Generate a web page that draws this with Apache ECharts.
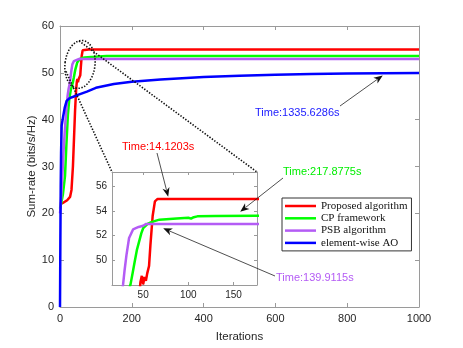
<!DOCTYPE html>
<html>
<head>
<meta charset="utf-8">
<script src="https://cdn.jsdelivr.net/npm/echarts@6/dist/echarts.min.js"></script>
<style>
  html, body { margin: 0; padding: 0; background: #fff; }
  #chart { width: 463px; height: 348px; }
</style>
</head>
<body>
<div id="chart"></div>
<script>
// series: iteration index and sum-rate (bits/s/Hz)
const proposedIter = [0, 10, 20, 28, 32, 36, 39, 42, 45, 47, 48.5, 50, 51.5, 53, 54.5, 56.5, 58, 60.5, 63, 66, 80, 1000]
const proposedRate = [22.0, 22.3, 22.8, 23.5, 25, 30, 36, 42, 46.5, 48.2, 48.7, 48.0, 48.6, 48.3, 48.9, 49.5, 51.2, 53.6, 54.8, 55.0, 55.0, 55.0]

const cpIter = [0, 3, 8, 14, 18, 22, 26, 30, 33, 36, 38.5, 40.7, 43, 45.5, 48, 50, 55, 59, 68, 87, 100, 103, 106, 110, 130, 176, 1000]
const cpRate = [21, 22, 24, 28, 35, 41, 44.5, 46.3, 47.2, 48, 49, 49.9, 50.8, 51.5, 52.2, 52.6, 52.95, 53.1, 53.3, 53.4, 53.45, 53.38, 53.5, 53.57, 53.6, 53.62, 53.6]

const psbIter = [0, 3, 6, 9, 12, 15, 18, 21, 24, 27.7, 29.5, 31.5, 34.4, 38.8, 45, 50, 53.3, 1000]
const psbRate = [20, 23, 27, 32, 36, 39.5, 42.5, 45, 46.6, 47.95, 49.2, 50.4, 51.8, 52.5, 52.7, 52.8, 52.95, 52.95]

const aoIter = [0, 1, 2, 3, 4.6, 9, 13, 18.5, 27, 37, 50, 75, 100, 150, 200, 280, 400, 500, 600, 700, 800, 900, 1000]
const aoRate = [0, 14, 26, 33, 38.7, 40.8, 42.5, 44, 44.6, 44.9, 45.3, 46.0, 46.8, 47.6, 48.1, 48.6, 49.1, 49.4, 49.6, 49.75, 49.85, 49.92, 49.95]

const names = ['Proposed algorithm', 'CP framework', 'PSB algorithm', 'element-wise AO']
const colors = ['#ff0000', '#00ff00', '#b45cf5', '#0000ff']

const insetXTicks = [50, 100, 150]
const insetYTicks = [50, 52, 54, 56]

// annotation texts and arrow tips (tips in data coords of the grid they point at)
const notes = [
  { text: 'Time:14.1203s', color: '#ff0000', x: 122, y: 147, from: [157, 153], grid: 1, tip: [77.7, 55.18] },
  { text: 'Time:217.8775s', color: '#00ee00', x: 283, y: 171.5, from: [283, 178], grid: 1, tip: [157.4, 53.95] },
  { text: 'Time:139.9115s', color: '#b45cf5', x: 276, y: 278, from: [275, 276], grid: 1, tip: [72.2, 52.59] },
  { text: 'Time:1335.6286s', color: '#1a1aff', x: 255, y: 113, from: [340, 106], grid: 0, tip: [899, 49.44] },
]

const zip = (xs, ys) => xs.map((x, i) => [x, ys[i]])
const allData = [zip(proposedIter, proposedRate), zip(cpIter, cpRate), zip(psbIter, psbRate), zip(aoIter, aoRate)]

const axisGray = '#9a9a9a'
const labelColor = '#262626'
const sans = 'Liberation Sans, Arial, sans-serif'

function boxAxis(extra) {
  return Object.assign({
    type: 'value',
    axisLine: { show: true, onZero: false, lineStyle: { color: axisGray, width: 1 } },
    axisTick: { show: true, inside: true, length: 4, lineStyle: { color: axisGray } },
    axisLabel: { show: false },
    splitLine: { show: false },
  }, extra)
}

const chart = echarts.init(document.getElementById('chart'), null, { renderer: 'canvas' })

const series = []
allData.forEach((d, i) => {
  series.push({
    name: names[i], type: 'line', data: d, xAxisIndex: 0, yAxisIndex: 0,
    showSymbol: false, symbol: 'none', lineStyle: { width: 2.5, color: colors[i] },
    itemStyle: { color: colors[i] }, animation: false,
  })
})
allData.forEach((d, i) => {
  if (i === 3) return
  series.push({
    name: names[i], type: 'line', data: d, xAxisIndex: 2, yAxisIndex: 2,
    showSymbol: false, symbol: 'none', lineStyle: { width: 2.5, color: colors[i] },
    itemStyle: { color: colors[i] }, animation: false, clip: true,
  })
})

chart.setOption({
  animation: false,
  backgroundColor: '#fff',
  grid: [
    { left: 60, top: 26, width: 359, height: 284 },
    { left: 112, top: 172, width: 145, height: 113, show: true, backgroundColor: '#fff', borderWidth: 0 },
  ],
  legend: {
    data: names,
    orient: 'vertical',
    left: 282, top: 198,
    padding: [2, 4, 2, 3],
    itemGap: 0.3,
    itemWidth: 31, itemHeight: 2.5,
    icon: 'rect',
    backgroundColor: '#fff',
    borderColor: '#333', borderWidth: 1, borderRadius: 0,
    textStyle: { fontFamily: 'Liberation Serif, Times New Roman, serif', fontSize: 11, color: '#111', lineHeight: 12 },
    z: 10,
  },
  xAxis: [
    boxAxis({
      gridIndex: 0, min: 0, max: 1000, interval: 200, position: 'bottom',
      axisLabel: { show: true, color: labelColor, fontSize: 11, fontFamily: sans, margin: 6, formatter: (v) => String(v) },
      name: 'Iterations', nameLocation: 'middle', nameGap: 24, nameMoveOverlap: false,
      nameTextStyle: { color: labelColor, fontSize: 11.5, fontFamily: sans },
    }),
    boxAxis({ gridIndex: 0, min: 0, max: 1000, interval: 200, position: 'top' }),
    boxAxis({
      gridIndex: 1, min: 15.5, max: 176, position: 'bottom',
      axisTick: { show: true, inside: true, length: 3, customValues: insetXTicks, lineStyle: { color: axisGray } },
      axisLabel: { show: true, customValues: insetXTicks, color: labelColor, fontSize: 10, fontFamily: sans, margin: 5 },
    }),
    boxAxis({
      gridIndex: 1, min: 15.5, max: 176, position: 'top',
      axisTick: { show: true, inside: true, length: 3, customValues: insetXTicks, lineStyle: { color: axisGray } },
    }),
  ],
  yAxis: [
    boxAxis({
      gridIndex: 0, min: 0, max: 60, interval: 10, position: 'left',
      axisLabel: { show: true, color: labelColor, fontSize: 11, fontFamily: sans, margin: 6 },
      name: 'Sum-rate (bits/s/Hz)', nameLocation: 'middle', nameGap: 22, nameRotate: 90, nameMoveOverlap: false,
      nameTextStyle: { color: labelColor, fontSize: 11.5, fontFamily: sans },
    }),
    boxAxis({ gridIndex: 0, min: 0, max: 60, interval: 10, position: 'right' }),
    boxAxis({
      gridIndex: 1, min: 47.95, max: 57.2, position: 'left',
      axisTick: { show: true, inside: true, length: 3, customValues: insetYTicks, lineStyle: { color: axisGray } },
      axisLabel: { show: true, customValues: insetYTicks, color: labelColor, fontSize: 10, fontFamily: sans, margin: 5 },
    }),
    boxAxis({
      gridIndex: 1, min: 47.95, max: 57.2, position: 'right',
      axisTick: { show: true, inside: true, length: 3, customValues: insetYTicks, lineStyle: { color: axisGray } },
    }),
  ],
  series,
})

// zoom marker, connector lines, annotation texts and arrows
function arrow(from, tip, len, half) {
  const dx = tip[0] - from[0], dy = tip[1] - from[1]
  const n = Math.hypot(dx, dy)
  const ux = dx / n, uy = dy / n
  const bx = tip[0] - ux * len, by = tip[1] - uy * len
  return [
    { type: 'line', z: 20, shape: { x1: from[0], y1: from[1], x2: bx + ux * 2, y2: by + uy * 2 }, style: { stroke: '#222', lineWidth: 0.8 } },
    { type: 'polygon', z: 20, shape: { points: [tip, [bx - uy * half, by + ux * half], [bx + ux * 2.5, by + uy * 2.5], [bx + uy * half, by - ux * half]] }, style: { fill: '#111' } },
  ]
}

const ell = chart.convertToPixel({ gridIndex: 0 }, [55.7, 51.8])
const insetTL = chart.convertToPixel({ gridIndex: 1 }, [15.5, 57.2])
const insetTR = chart.convertToPixel({ gridIndex: 1 }, [176, 57.2])
const dotted = { stroke: '#111', lineWidth: 1.6, lineDash: [1.4, 1.6], fill: null }

const graphic = [
  { type: 'ellipse', z: 15, shape: { cx: ell[0], cy: ell[1], rx: 15, ry: 24 }, rotation: -0.12, originX: ell[0], originY: ell[1], style: dotted },
  { type: 'line', z: 15, shape: { x1: ell[0] - 1, y1: ell[1] - 23.5, x2: insetTR[0], y2: insetTR[1] }, style: dotted },
  { type: 'line', z: 15, shape: { x1: ell[0] - 14, y1: ell[1] + 7, x2: insetTL[0], y2: insetTL[1] }, style: dotted },
]
notes.forEach((a) => {
  graphic.push({
    type: 'text', z: 20, x: a.x, y: a.y,
    style: { text: a.text, fill: a.color, fontSize: 11, fontFamily: sans, verticalAlign: 'middle', align: 'left' },
  })
  const tip = chart.convertToPixel({ gridIndex: a.grid }, a.tip)
  graphic.push(...arrow(a.from, tip, 9, 3.6))
})
chart.setOption({ graphic })
</script>
</body>
</html>
